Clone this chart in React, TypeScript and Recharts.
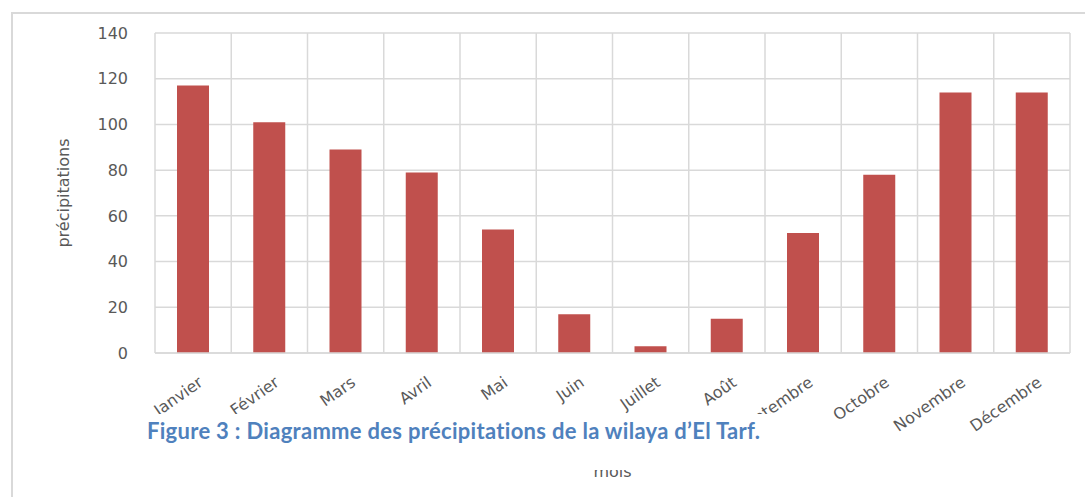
import { BarChart, Bar, XAxis, YAxis, CartesianGrid } from 'recharts'

const months = ['Janvier', 'Février', 'Mars', 'Avril', 'Mai', 'Juin', 'Juillet', 'Août', 'Septembre', 'Octobre', 'Novembre', 'Décembre']
const precipitations = [117, 101, 89, 79, 54, 17, 3, 15, 52.5, 78, 114, 114]
const yTicks = [0, 20, 40, 60, 80, 100, 120, 140]

const data = months.map((mois, i) => ({ mois, precipitations: precipitations[i] }))

const TEXT = '#595959'
const GRID = '#d9d9d9'

function MonthTick({ x, y, payload }: any) {
  return (
    <g transform={`translate(${x + 4},${y + 14})`}>
      <text x={0} y={0} dy={12} textAnchor="end" transform="rotate(-35)" fill={TEXT} fontSize={16} fontFamily="DejaVu Sans">
        {payload.value}
      </text>
    </g>
  )
}

function YLabel({ viewBox }: any) {
  const cx = 63
  const cy = viewBox.y + viewBox.height / 2
  return (
    <text x={cx} y={cy} transform={`rotate(-90, ${cx}, ${cy})`} textAnchor="middle" dominantBaseline="central" fill={TEXT} fontSize={16} fontFamily="DejaVu Sans">
      précipitations
    </text>
  )
}

export default function App() {
  return (
    <div style={{ position: 'absolute', left: 0, top: 0, width: 1085, height: 497, background: '#fff', overflow: 'hidden' }}>
      <div style={{ position: 'absolute', left: 11, top: 12, width: 1100, height: 520, borderTop: `2px solid ${GRID}`, borderLeft: `2px solid ${GRID}` }} />
      <div style={{ position: 'absolute', left: 0, top: 0 }}>
        <BarChart width={1085} height={497} data={data} margin={{ top: 33, right: 15, bottom: 14, left: 55 }} barSize={32}>
          <CartesianGrid
            stroke={GRID}
            strokeWidth={1.5}
            verticalCoordinatesGenerator={({ offset }: any) => months.concat('').map((_, i) => offset.left + (i * offset.width) / months.length)}
          />
          <XAxis
            dataKey="mois"
            height={130}
            interval={0}
            tickLine={false}
            axisLine={{ stroke: GRID, strokeWidth: 1.5 }}
            tick={<MonthTick />}
            label={{ value: 'mois', position: 'insideBottom', offset: 6, fill: TEXT, fontSize: 16, fontFamily: 'DejaVu Sans' }}
          />
          <YAxis
            width={100}
            domain={[0, 140]}
            ticks={yTicks}
            axisLine={false}
            tickLine={false}
            tickMargin={21}
            tick={{ fill: TEXT, fontSize: 16, fontFamily: 'DejaVu Sans' }}
            label={<YLabel />}
          />
          <Bar dataKey="precipitations" fill="#c0504d" isAnimationActive={false} />
        </BarChart>
      </div>
      <div
        style={{
          position: 'absolute',
          left: 140,
          top: 414,
          width: 632,
          height: 56,
          background: '#fff',
          color: '#4f81bd',
          fontFamily: 'Lato',
          fontWeight: 700,
          fontSize: 22,
          letterSpacing: 0.3,
          lineHeight: '22px',
          paddingLeft: 7,
          paddingTop: 6,
          boxSizing: 'border-box',
          whiteSpace: 'nowrap',
        }}
      >
        Figure 3 : Diagramme des précipitations de la wilaya d’El Tarf.
      </div>
    </div>
  )
}
